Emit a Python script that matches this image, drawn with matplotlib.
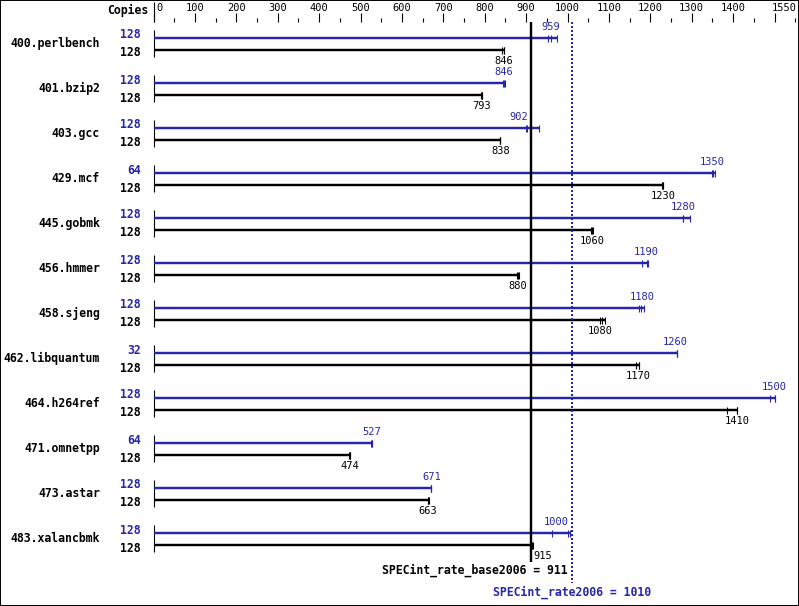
import matplotlib
matplotlib.use("Agg")
import matplotlib.pyplot as plt
import numpy as np

# Datos del gráfico (SPECint_rate2006)
benchmarks = ["400.perlbench", "401.bzip2", "403.gcc", "429.mcf", "445.gobmk",
              "456.hmmer", "458.sjeng", "462.libquantum", "464.h264ref",
              "471.omnetpp", "473.astar", "483.xalancbmk"]
peak_copies = [128, 128, 128, 64, 128, 128, 128, 32, 128, 64, 128, 128]
base_copies = [128, 128, 128, 128, 128, 128, 128, 128, 128, 128, 128, 128]
peak_ratio = [959, 846, 902, 1350, 1280, 1190, 1180, 1260, 1500, 527, 671, 1000]
base_ratio = [846, 793, 838, 1230, 1060, 880, 1080, 1170, 1410, 474, 663, 915]
# valores de cada ejecución (marcas pequeñas)
peak_runs = [[954, 959, 975], [845, 846, 848], [899, 902, 931], [1348, 1352, 1356],
             [1278, 1280, 1297], [1181, 1191, 1194], [1173, 1178, 1185],
             [1264, 1265, 1265], [1490, 1500, 1502], [526, 527, 527],
             [670, 671, 671], [962, 1000, 1005]]
base_runs = [[842, 846, 847], [792, 793, 793], [837, 838, 838], [1229, 1230, 1231],
             [1057, 1059, 1062], [878, 880, 882], [1079, 1084, 1091],
             [1166, 1172, 1173], [1386, 1409, 1410], [473, 474, 474],
             [662, 663, 665], [913, 915, 916]]
base_score = 911
peak_score = 1010
major_ticks = list(range(0, 1401, 100))
last_tick = 1550

BLUE = '#2626ac'
PX = 0.414   # pixeles por unidad
X0 = 153.5   # columna del 0


def dx(p):
    # columna en pixeles -> coordenada x
    return (p - X0) / PX


fig = plt.figure(figsize=(7.99, 6.06), dpi=100)
ax = fig.add_axes([0, 0, 1, 1])
ax.set_xlim(dx(0), dx(799))
ax.set_ylim(606, 0)
ax.axis('off')
fig.patches.append(plt.Rectangle((0, 0), 1, 1, transform=fig.transFigure,
                                 fill=False, lw=1.4, ec='black'))

mono = 'DejaVu Sans Mono'
lw1 = 0.8
lw2 = 1.75

# escala superior
ax.vlines(0, 2, 22, color='k', lw=lw1)
ax.vlines(np.arange(0, 1501, 100), 13, 22, color='k', lw=lw1)
ax.vlines(np.arange(50, 1551, 100), 18, 22, color='k', lw=lw1)
for v in major_ticks:
    if v == 0:
        ax.text(dx(156), 8, str(v), ha='left', va='center', fontsize=7.5, family=mono)
    else:
        ax.text(v, 8, str(v), ha='center', va='center', fontsize=7.5, family=mono)
ax.text(dx(797), 8, str(last_tick), ha='right', va='center', fontsize=7.5, family=mono)
ax.text(dx(148), 10, 'Copies', ha='right', va='center', fontsize=8.3,
        family=mono, fontweight='bold')


def place_label(val, y, color):
    # evita cruzar las líneas de referencia
    half = len(str(val)) * 3.0 / PX
    for ref in (base_score, peak_score):
        if val - half < ref < val + half:
            if val > ref:
                ax.text(ref + 3 / PX, y, str(val), ha='left', va='center',
                        fontsize=7.5, family=mono, color=color)
            else:
                ax.text(ref - 3 / PX, y, str(val), ha='right', va='center',
                        fontsize=7.5, family=mono, color=color)
            return
    ax.text(val, y, str(val), ha='center', va='center', fontsize=7.5,
            family=mono, color=color)


for i, name in enumerate(benchmarks):
    yb = 38 + 45 * i
    yk = 50 + 45 * i
    ax.vlines(0, yb - 8, yk + 7, color='k', lw=lw1)
    # peak
    ax.hlines(yb, 0, max(peak_runs[i]), color=BLUE, lw=lw2)
    ax.vlines(peak_runs[i], yb - 3.5, yb + 3.5, color=BLUE, lw=lw1)
    place_label(peak_ratio[i], yb - 11, BLUE)
    # base
    ax.hlines(yk, 0, max(base_runs[i]), color='k', lw=lw2)
    ax.vlines(base_runs[i], yk - 3.5, yk + 3.5, color='k', lw=lw1)
    place_label(base_ratio[i], yk + 11, 'k')
    # textos
    ax.text(dx(100), (yb + yk) / 2 - 0.5, name, ha='right', va='center',
            fontsize=8.3, family=mono, fontweight='bold')
    ax.text(dx(141), yb - 3, str(peak_copies[i]), ha='right', va='center',
            fontsize=8.3, family=mono, fontweight='bold', color=BLUE)
    ax.text(dx(141), yk + 3, str(base_copies[i]), ha='right', va='center',
            fontsize=8.3, family=mono, fontweight='bold')

# líneas de referencia
ax.vlines(base_score, 22, 562, color='k', lw=lw2)
ax.vlines(peak_score, 22, 583, color=BLUE, lw=1.44, linestyles=(0, (1, 1)))
ax.text(dx(568), 570, f'SPECint_rate_base2006 = {base_score}', ha='right',
        va='center', fontsize=8.3, family=mono, fontweight='bold')
ax.text(peak_score, 592, f'SPECint_rate2006 = {peak_score}', ha='center',
        va='center', fontsize=8.3, family=mono, fontweight='bold', color=BLUE)

fig.savefig('out.png', dpi=100)
